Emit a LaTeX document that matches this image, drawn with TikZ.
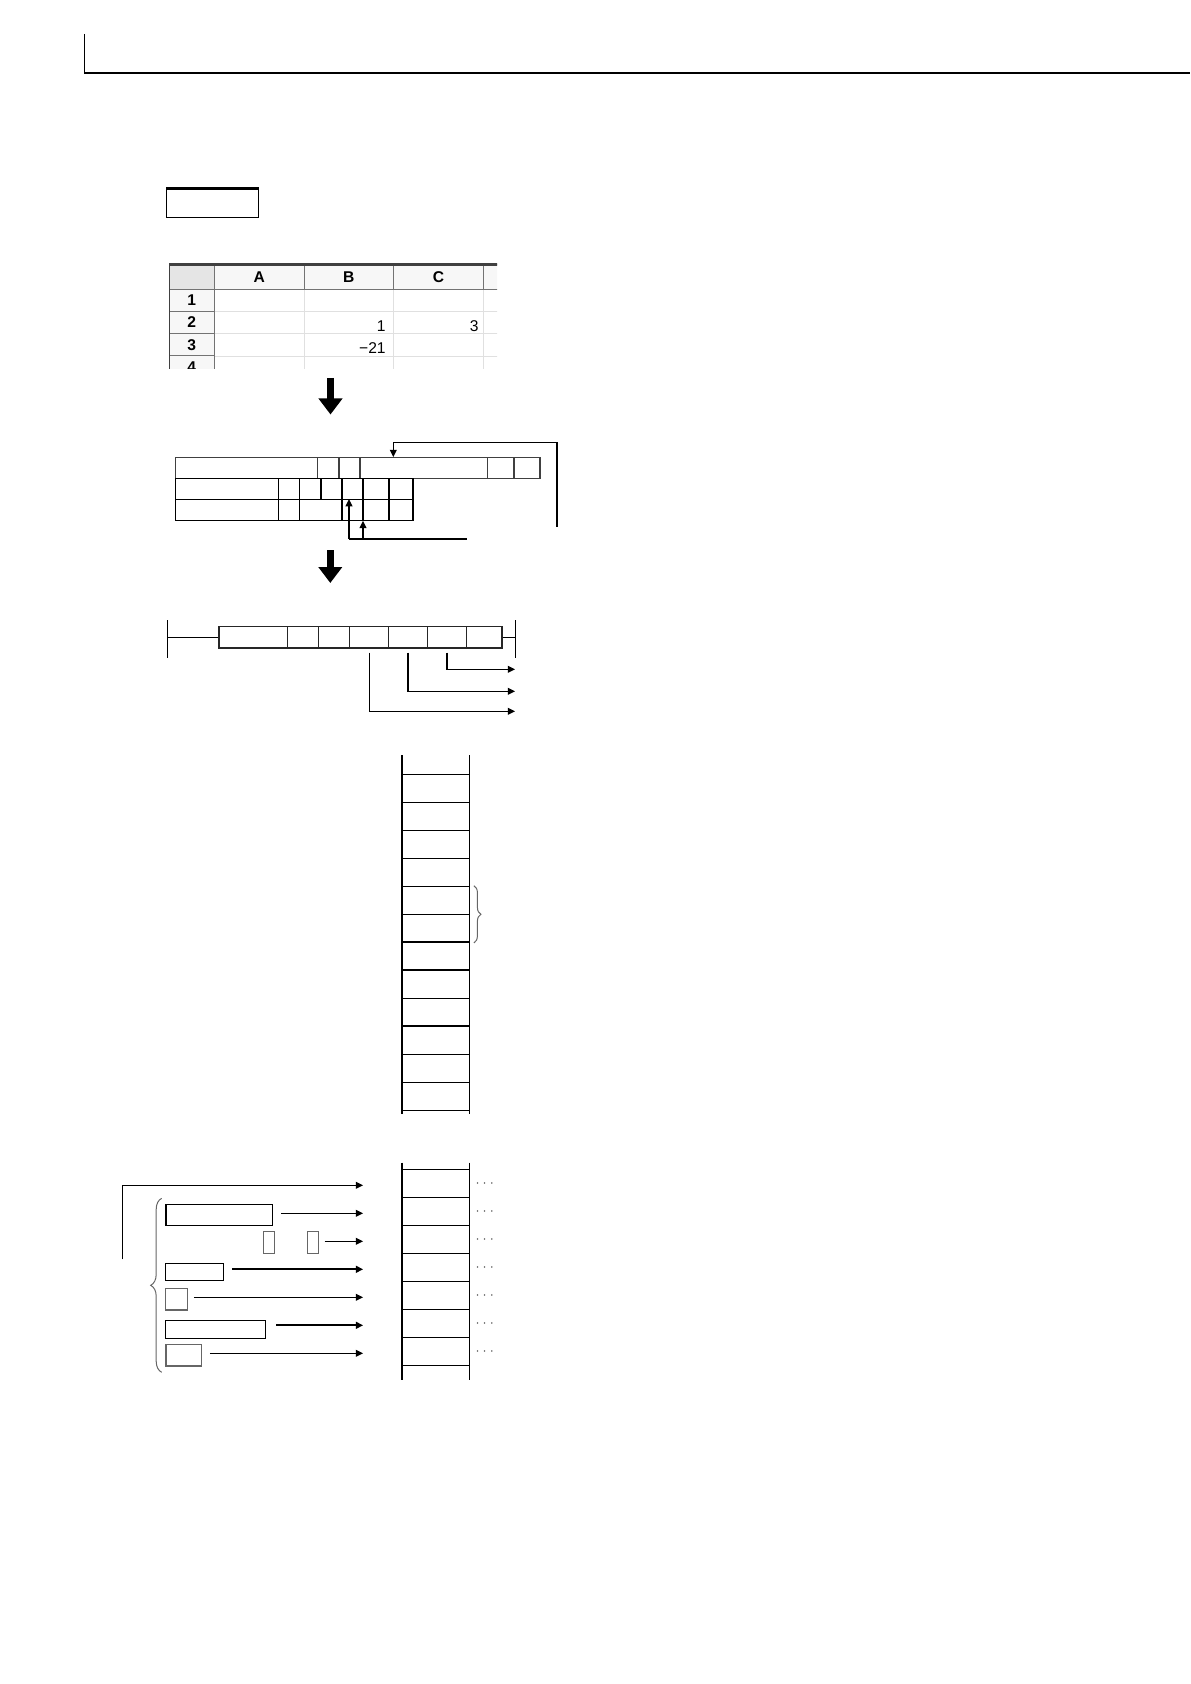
\documentclass[tikz,border=0pt]{standalone}
\usepackage{fontspec}
\newfontfamily\sheetfont{Liberation Sans}
\usetikzlibrary{arrows.meta, fit, calc, decorations.pathreplacing}

\begin{document}
\begin{tikzpicture}[
    x=0.5pt, y=-0.5pt,
    >={Triangle[length=3.6pt,width=3.4pt]},
    cell/.style={draw, inner sep=0pt, line width=0.6pt},
    softcell/.style={cell, draw=black!60},
    rungcell/.style={cell, draw=black!85, line width=0.55pt},
    headcell/.style={draw=black!55, fill=black!3, inner sep=0pt, line width=0.5pt},
    sheetlab/.style={font=\sheetfont\bfseries\fontsize{7.8}{9}\selectfont, inner sep=0pt},
    sheetnum/.style={font=\sheetfont\fontsize{7.8}{9}\selectfont, inner sep=0pt, anchor=base east},
    faint/.style={draw=black!12, line width=0.4pt},
    rung/.style={line width=0.6pt},
    rail/.style={line width=1.1pt},
    arr/.style={->, line width=0.6pt},
    thickarr/.style={->, line width=0.95pt},
    bigdown/.style={-{Triangle[length=8pt,width=11.5pt]}, line width=3.6pt},
    bracegray/.style={draw=black!60, line width=0.5pt, decorate},
    dots/.style={font=\fontsize{6}{7}\selectfont, text=black!80, inner sep=0pt, anchor=west},
]
\useasboundingbox (0,0) rectangle (1190,1684);

% Page frame
\coordinate (fr0) at (84.5,34);
\coordinate (fr1) at (84.5,73);
\coordinate (fr2) at (1190,73);
\draw[rung] (fr0) -- (fr1) -- (fr2);

% Tag box
\node[cell, fit={(166.7,189.3)(258.3,217.7)}] (tag) {};
\draw[line width=1.3pt] (tag.north west) -- (tag.north east);

% Spreadsheet
\begin{scope}
\clip (169,263) rectangle (497,369);
\draw[faint] (304,289.3) -- (304,378) (393.7,289.3) -- (393.7,378) (483.3,289.3) -- (483.3,378);
\draw[faint] (214.3,311.7) -- (575,311.7) (214.3,333.3) -- (575,333.3) (214.3,356) -- (575,356);
\node[headcell, fill=black!10, fit={(169.3,265)(214.3,289.3)}] (corner) {};
\node[headcell, fit={(214.3,265)(304,289.3)}] (colA) {};
\node[headcell, fit={(304,265)(393.7,289.3)}] (colB) {};
\node[headcell, fit={(393.7,265)(483.3,289.3)}] (colC) {};
\node[headcell, fit={(483.3,265)(575,289.3)}] (colD) {};
\node[headcell, fit={(169.3,289.3)(214.3,311.7)}] (row1) {};
\node[headcell, fit={(169.3,311.7)(214.3,333.3)}] (row2) {};
\node[headcell, fit={(169.3,333.3)(214.3,356)}] (row3) {};
\node[headcell, fit={(169.3,356)(214.3,378.4)}] (row4) {};
\foreach \n/\t in {colA/A, colB/B, colC/C, row1/1, row2/2, row3/3, row4/4}
  \node[sheetlab] (lab-\n) at (\n.center) {\t};
\draw[line width=1.1pt, black!75] (corner.north west) -- (colD.north east);
\draw[line width=0.9pt, black!75] (corner.north west) -- (row4.south west);
\node[sheetnum] (valB2) at (386,331.5) {1};
\node[sheetnum] (valC2) at (479,331.5) {3};
\node[sheetnum] (valB3) at (386,353.3) {−21};
\end{scope}

% Down arrow 1
\coordinate (dnA0) at (330.5,378);
\coordinate (dnA1) at (330.5,414.5);
\draw[bigdown] (dnA0) -- (dnA1);

% Three-row ladder
\foreach \xa/\xb [count=\i] in {175.7/317.7, 317.7/339, 339/360, 360/487.7, 487.7/514, 514/540}
  \node[cell, draw=black!75, fit={(\xa,457.7)(\xb,478.3)}] (t\i) {};
\foreach \xa/\xb [count=\i] in {175.7/278.3, 278.3/299.7, 299.7/321, 321/342, 342/363, 363/389, 389/413}
  \node[cell, fit={(\xa,478.3)(\xb,499.7)}] (u\i) {};
\foreach \xa/\xb [count=\i] in {175.7/278.3, 278.3/299.7, 299.7/342, 342/363, 363/389, 389/413}
  \node[cell, fit={(\xa,499.7)(\xb,520.3)}] (v\i) {};

% Feedback into top row
\coordinate (fbA) at (557,526.7);
\coordinate (fbB) at (393.3,442.7);
\draw[arr] (fbA) |- (fbB) -- (fbB |- t4.north);

% Taps from below
\coordinate (tapA) at (349,539);
\coordinate (tapB) at (363,539);
\coordinate (tapC) at (467,539);
\draw[rung] (tapA) -- (tapC);
\draw[arr] (tapA) -- (tapA |- v4.north);
\draw[arr] (tapB) -- (tapB |- v5.south);

% Down arrow 2
\coordinate (dnB0) at (330.3,550);
\coordinate (dnB1) at (330.3,583);
\draw[bigdown] (dnB0) -- (dnB1);

% Single rung
\coordinate (lr0) at (167.3,620);
\coordinate (lr1) at (167.3,657.7);
\coordinate (rr0) at (515.3,620);
\coordinate (rr1) at (515.3,657.7);
\draw[rung] (lr0) -- (lr1);
\draw[rung] (rr0) -- (rr1);
\foreach \xa/\xb [count=\i] in {219/287.7, 287.7/318.7, 318.7/349.7, 349.7/388.7, 388.7/427.3, 427.3/466.7, 466.7/502}
  \node[rungcell, fit={(\xa,626.7)(\xb,648)}] (w\i) {};
\draw[rung] (lr0 |- w1.west) -- (w1.west);
\draw[rung] (w7.east) -- (w7.east -| rr0);

% Outputs
\coordinate (outA) at (515,669.3);
\coordinate (outB) at (515,691.3);
\coordinate (outC) at (515,711.3);
\draw[arr] ([yshift=-2pt]w6.south) |- (outA);
\draw[arr] ([yshift=-2pt]w5.south) |- (outB);
\draw[arr] ([yshift=-2pt]w4.south) |- (outC);

% Device column
\foreach \k in {0,...,11}
  \node[cell, fit={(402,{774.3+28*\k})(469.3,{802.3+28*\k})}] (m\k) {};
\foreach \k in {6,7,9}
  \draw[line width=1.2pt] (m\k.north west) -- (m\k.north east);
\coordinate (cLT) at (402,755);
\coordinate (cLB) at (402,1114);
\coordinate (cRT) at (469.3,755);
\coordinate (cRB) at (469.3,1114);
\draw[rail] (cLT) -- (cLB);
\draw[rung] (cRT) -- (cRB);
\draw[bracegray, decoration={brace, amplitude=3.5pt}] ([xshift=2pt]m4.north east) -- ([xshift=2pt]m5.south east);

% Target column
\foreach \k in {0,...,6}
  \node[cell, fit={(401.7,{1169.3+28*\k})(469.3,{1197.3+28*\k})}] (s\k) {};
\coordinate (sLT) at (401.7,1162.7);
\coordinate (sLB) at (401.7,1380);
\coordinate (sRT) at (469.3,1162.7);
\coordinate (sRB) at (469.3,1380);
\draw[rail] (sLT) -- (sLB);
\draw[rung] (sRT) -- (sRB);
\foreach \k in {0,...,6} {
  \node[dots] (d\k) at ([xshift=2.5pt]s\k.east) {$\cdots$};
  \coordinate (in\k) at ([xshift=-19pt, yshift=-1pt]s\k.west);
}

% Source boxes
\node[cell, fit={(166,1204.3)(272.7,1225.7)}] (b1) {};
\node[softcell, fit={(263.3,1231.7)(274.7,1253.3)}] (b2a) {};
\node[softcell, fit={(307.3,1231.7)(318.7,1253.3)}] (b2b) {};
\node[cell, fit={(165.3,1263.3)(223.7,1280.3)}] (b3) {};
\node[softcell, fit={(165.3,1288.3)(187.3,1310)}] (b4) {};
\node[cell, fit={(165.3,1320.3)(265.7,1338.3)}] (b5) {};
\node[softcell, fit={(166,1344.3)(201.7,1366)}] (b6) {};

% Arrows into target column
\coordinate (feedL) at (122.3,1259.3);
\draw[arr] (feedL) |- (in0);
\draw[arr, shorten <=4pt] (b1.east |- in1) -- (in1);
\draw[arr, shorten <=2.7pt] (b2b.east |- in2) -- (in2);
\draw[thickarr, shorten <=4pt] (b3.east |- in3) -- (in3);
\draw[arr, shorten <=3pt] (b4.east |- in4) -- (in4);
\draw[thickarr, shorten <=5pt] (b5.east |- in5) -- (in5);
\draw[arr, shorten <=3.8pt] (b6.east |- in6) -- (in6);

% Group brace
\coordinate (grpB) at (161.7,1372.3);
\coordinate (grpT) at (161.7,1198.3);
\draw[bracegray, decoration={brace, amplitude=5.5pt}] (grpB) -- (grpT);

\end{tikzpicture}
\end{document}
